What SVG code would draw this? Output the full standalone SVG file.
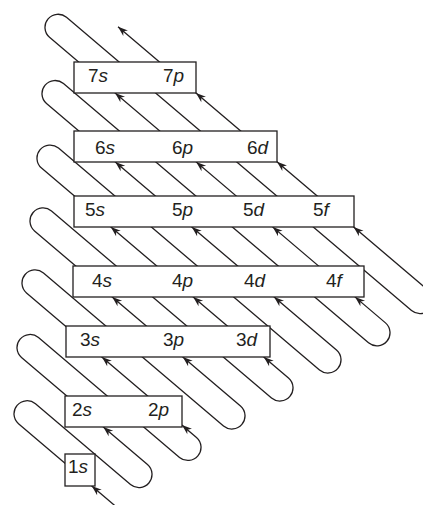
<svg xmlns="http://www.w3.org/2000/svg" xmlns:xlink="http://www.w3.org/1999/xlink" width="423" height="505" viewBox="0 0 423 505">
<style>
.ln{fill:none;stroke:#231f20;stroke-width:1.3;stroke-linejoin:round}
.box{fill:#fff;stroke:#231f20;stroke-width:1.3}
text{font-family:"Liberation Sans",Arial,Helvetica,sans-serif;font-size:19px;fill:#231f20}
.i{font-style:italic}
</style>
<defs>
<path id="ah" d="M0,0 L-10,-3.6 L-7,0 L-10,3.6 Z" fill="#231f20"/>
</defs>
<rect width="423" height="505" fill="#fff"/>
<g id="connectors">
<path class="ln" d="M120,510 L18.515,423.73 A13.1,13.1 0 0 1 35.485,403.77 L130.515,484.53 A13.1,13.1 0 0 0 147.485,464.57 L21.515,357.48 A13.1,13.1 0 0 1 38.485,337.52 L179.515,457.38 A13.1,13.1 0 0 0 196.485,437.42 L26.515,292.93 A13.1,13.1 0 0 1 43.485,272.97 L223.515,425.98 A13.1,13.1 0 0 0 240.485,406.02 L34.515,230.93 A13.1,13.1 0 0 1 51.485,210.97 L271.515,397.98 A13.1,13.1 0 0 0 288.485,378.02 L41.515,168.08 A13.1,13.1 0 0 1 58.485,148.12 L319.515,369.98 A13.1,13.1 0 0 0 336.485,350.02 L46.515,103.53 A13.1,13.1 0 0 1 63.485,83.57 L368.515,342.83 A13.1,13.1 0 0 0 385.485,322.87 L49.515,37.28 A13.1,13.1 0 0 1 66.485,17.32 L411.515,310.58 A13.1,13.1 0 0 0 428.485,290.62 L118,26.7"/>
</g>
<g id="n1">
<rect class="box" x="65" y="454" width="30" height="32"/>
<text x="68" y="473">1<tspan class="i">s</tspan></text>
</g>
<g id="n2">
<rect class="box" x="65" y="396" width="117" height="31"/>
<text x="72" y="416">2<tspan class="i">s</tspan></text>
<text x="148" y="416">2<tspan class="i">p</tspan></text>
</g>
<g id="n3">
<rect class="box" x="66" y="326" width="204" height="31"/>
<text x="80" y="346">3<tspan class="i">s</tspan></text>
<text x="163" y="346">3<tspan class="i">p</tspan></text>
<text x="236" y="346">3<tspan class="i">d</tspan></text>
</g>
<g id="n4">
<rect class="box" x="73" y="266" width="291" height="31"/>
<text x="92" y="287">4<tspan class="i">s</tspan></text>
<text x="172" y="287">4<tspan class="i">p</tspan></text>
<text x="244" y="287">4<tspan class="i">d</tspan></text>
<text x="326" y="287">4<tspan class="i">f</tspan></text>
</g>
<g id="n5">
<rect class="box" x="74" y="196" width="280" height="31"/>
<text x="85" y="216">5<tspan class="i">s</tspan></text>
<text x="172" y="216">5<tspan class="i">p</tspan></text>
<text x="243" y="216">5<tspan class="i">d</tspan></text>
<text x="313" y="216">5<tspan class="i">f</tspan></text>
</g>
<g id="n6">
<rect class="box" x="74" y="131" width="203" height="31"/>
<text x="95" y="154">6<tspan class="i">s</tspan></text>
<text x="172" y="154">6<tspan class="i">p</tspan></text>
<text x="247" y="154">6<tspan class="i">d</tspan></text>
</g>
<g id="n7">
<rect class="box" x="74" y="62" width="122" height="31"/>
<text x="88" y="82">7<tspan class="i">s</tspan></text>
<text x="163" y="82">7<tspan class="i">p</tspan></text>
</g>
<g id="arrowheads">
<use xlink:href="#ah" href="#ah" transform="translate(91.8,486) rotate(220.4)"/>
<use xlink:href="#ah" href="#ah" transform="translate(103.3,427) rotate(220.4)"/>
<use xlink:href="#ah" href="#ah" transform="translate(182,425.1) rotate(220.4)"/>
<use xlink:href="#ah" href="#ah" transform="translate(101.9,357) rotate(220.4)"/>
<use xlink:href="#ah" href="#ah" transform="translate(182.8,357) rotate(220.4)"/>
<use xlink:href="#ah" href="#ah" transform="translate(112.2,297) rotate(220.4)"/>
<use xlink:href="#ah" href="#ah" transform="translate(263.8,357) rotate(220.4)"/>
<use xlink:href="#ah" href="#ah" transform="translate(193.2,297) rotate(220.4)"/>
<use xlink:href="#ah" href="#ah" transform="translate(110.8,227) rotate(220.4)"/>
<use xlink:href="#ah" href="#ah" transform="translate(274.1,297) rotate(220.4)"/>
<use xlink:href="#ah" href="#ah" transform="translate(191.8,227) rotate(220.4)"/>
<use xlink:href="#ah" href="#ah" transform="translate(115.3,162) rotate(220.4)"/>
<use xlink:href="#ah" href="#ah" transform="translate(355.1,297) rotate(220.4)"/>
<use xlink:href="#ah" href="#ah" transform="translate(272.7,227) rotate(220.4)"/>
<use xlink:href="#ah" href="#ah" transform="translate(196.2,162) rotate(220.4)"/>
<use xlink:href="#ah" href="#ah" transform="translate(115.1,93) rotate(220.4)"/>
<use xlink:href="#ah" href="#ah" transform="translate(353.6,227) rotate(220.4)"/>
<use xlink:href="#ah" href="#ah" transform="translate(277,161.85) rotate(220.4)"/>
<use xlink:href="#ah" href="#ah" transform="translate(196,93) rotate(220.4)"/>
<use xlink:href="#ah" href="#ah" transform="translate(118,26.7) rotate(220.4)"/>
</g>
</svg>
